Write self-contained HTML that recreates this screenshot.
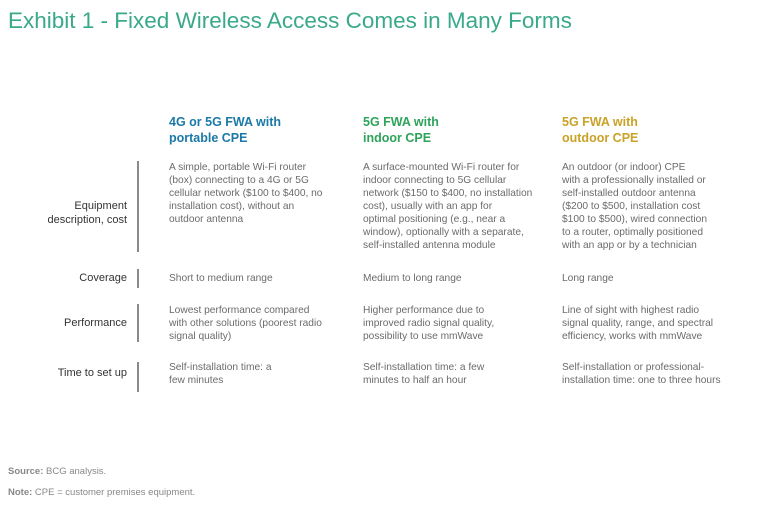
<!DOCTYPE html>
<html><head><meta charset="utf-8"><style>
body{margin:0;width:768px;height:519px;background:#fff;font-family:"Liberation Sans",sans-serif;position:relative;overflow:hidden}
.a{position:absolute;white-space:nowrap}
.t{left:8px;top:8px;font-size:22.5px;color:#3aa98a}
.h{font-size:12.5px;font-weight:bold;line-height:16px}
.b{font-size:10.2px;color:#6b6b6b;line-height:13px}
.l{font-size:11px;color:#333;text-align:right;line-height:14px;width:127px;left:0}
.bar{left:137px;width:2px;background:#8a8a8a}
.f{font-size:9.5px;color:#888;left:8px}
</style></head><body>
<div class="a t">Exhibit 1 - Fixed Wireless Access Comes in Many Forms</div>
<div class="a h" style="left:169px;top:114px;color:#1b79a8">4G or 5G FWA with<br>portable CPE</div>
<div class="a h" style="left:363px;top:114px;color:#2ea35a">5G FWA with<br>indoor CPE</div>
<div class="a h" style="left:562px;top:114px;color:#c9a227">5G FWA with<br>outdoor CPE</div>

<div class="a bar" style="top:161px;height:91px"></div>
<div class="a bar" style="top:269px;height:19px"></div>
<div class="a bar" style="top:304px;height:38px"></div>
<div class="a bar" style="top:362px;height:30px"></div>

<div class="a l" style="top:199px">Equipment<br>description, cost</div>
<div class="a l" style="top:271px">Coverage</div>
<div class="a l" style="top:316px">Performance</div>
<div class="a l" style="top:366px">Time to set up</div>

<div class="a b" style="left:169px;top:161px">A simple, portable Wi-Fi router<br>(box) connecting to a 4G or 5G<br>cellular network ($100 to $400, no<br>installation cost), without an<br>outdoor antenna</div>
<div class="a b" style="left:363px;top:161px">A surface-mounted Wi-Fi router for<br>indoor connecting to 5G cellular<br>network ($150 to $400, no installation<br>cost), usually with an app for<br>optimal positioning (e.g., near a<br>window), optionally with a separate,<br>self-installed antenna module</div>
<div class="a b" style="left:562px;top:161px">An outdoor (or indoor) CPE<br>with a professionally installed or<br>self-installed outdoor antenna<br>($200 to $500, installation cost<br>$100 to $500), wired connection<br>to a router, optimally positioned<br>with an app or by a technician</div>

<div class="a b" style="left:169px;top:272px">Short to medium range</div>
<div class="a b" style="left:363px;top:272px">Medium to long range</div>
<div class="a b" style="left:562px;top:272px">Long range</div>

<div class="a b" style="left:169px;top:304px">Lowest performance compared<br>with other solutions (poorest radio<br>signal quality)</div>
<div class="a b" style="left:363px;top:304px">Higher performance due to<br>improved radio signal quality,<br>possibility to use mmWave</div>
<div class="a b" style="left:562px;top:304px">Line of sight with highest radio<br>signal quality, range, and spectral<br>efficiency, works with mmWave</div>

<div class="a b" style="left:169px;top:361px">Self-installation time: a<br>few minutes</div>
<div class="a b" style="left:363px;top:361px">Self-installation time: a few<br>minutes to half an hour</div>
<div class="a b" style="left:562px;top:361px">Self-installation or professional-<br>installation time: one to three hours</div>

<div class="a f" style="top:466px"><b>Source:</b> BCG analysis.</div>
<div class="a f" style="top:487px"><b>Note:</b> CPE = customer premises equipment.</div>
</body></html>
